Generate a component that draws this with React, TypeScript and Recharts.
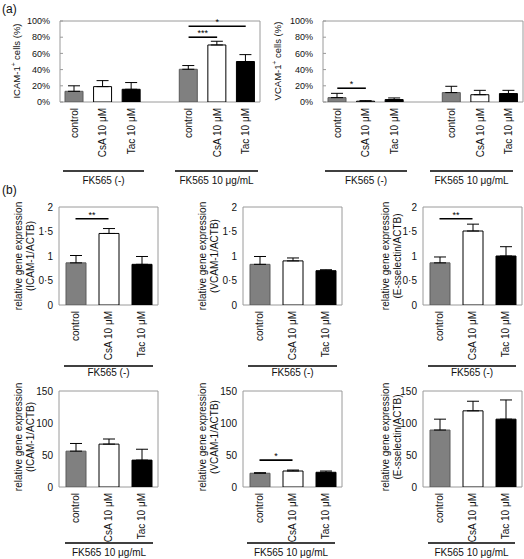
import React from "react";
import { BarChart, Bar, XAxis, YAxis, ErrorBar, Cell, ReferenceLine, ReferenceArea } from "recharts";

// ---------- data ----------
const aKeys = ["c1", "s1", "t1", "gap", "c2", "s2", "t2"];
const aLabels = ["control", "CsA 10 μM", "Tac 10 μM", "", "control", "CsA 10 μM", "Tac 10 μM"];
const aKinds = [0, 1, 2, -1, 0, 1, 2];
const icamCellsPct = [13.2, 19, 15.7, null, 40.4, 70.4, 50];
const icamCellsErr = [6.8, 7.4, 8.3, null, 4.6, 4.6, 8.5];
const vcamCellsPct = [5.4, 1, 3, null, 11.6, 9, 10.4];
const vcamCellsErr = [5.3, 0.6, 2, null, 7.8, 5.4, 4];
const aTicks = [0, 20, 40, 60, 80, 100];

const bKeys = ["control", "csa", "tac"];
const bLabels = ["control", "CsA 10 μM", "Tac 10 μM"];
const bKinds = [0, 1, 2];
const icamNeg = [0.86, 1.46, 0.83];
const icamNegErr = [0.15, 0.1, 0.16];
const vcamNeg = [0.83, 0.9, 0.7];
const vcamNegErr = [0.16, 0.06, 0.02];
const eselNeg = [0.86, 1.51, 1.0];
const eselNegErr = [0.12, 0.14, 0.19];
const icamFk = [56, 67, 42];
const icamFkErr = [12, 8, 17];
const vcamFk = [21.5, 25, 23];
const vcamFkErr = [0.8, 1.5, 2];
const eselFk = [89, 119, 106];
const eselFkErr = [17, 15, 30];
const bTicksLow = [0, 0.5, 1, 1.5, 2];
const bTicksHigh = [0, 50, 100, 150];

const icamCellsSig = [
  { from: "c2", to: "s2", y: 80, mark: "***" },
  { from: "c2", to: "t2", y: 93.5, mark: "*" },
];
const vcamCellsSig = [{ from: "c1", to: "s1", y: 17, mark: "*" }];
const icamNegSig = [{ from: "control", to: "csa", y: 1.76, mark: "**" }];
const eselNegSig = [{ from: "control", to: "csa", y: 1.76, mark: "**" }];
const vcamFkSig = [{ from: "control", to: "csa", y: 42, mark: "*" }];
const noSig: { from: string; to: string; y: number; mark: string }[] = [];

// ---------- styling ----------
const FILLS = ["#808080", "#ffffff", "#000000"];
const STROKES = ["#5a5a5a", "#000000", "#000000"];
const BOX = "#9a9a9a";
const YW = 50;
const MT = 14;
const MR = 1;
const XH = 62;

const pctFmt = (v: number) => `${v}%`;
const dotFmt = (v: number) => String(v).replace(".", "·");
const intFmt = (v: number) => String(v);

type Sig = { from: string; to: string; y: number; mark: string };
type PanelProps = {
  left: number;
  top: number;
  w: number;
  h: number;
  keys: string[];
  labels: string[];
  kinds: number[];
  values: (number | null)[];
  errors: (number | null)[];
  domain: [number, number];
  ticks: number[];
  fmt: (v: number) => string;
  barSize: number;
  sig: Sig[];
  tickFont: number;
  inner: boolean;
};

const RotTick = (props: any) => {
  const { x, y, payload, map } = props;
  const t = map[payload.value] ?? "";
  return (
    <text
      transform={`translate(${x},${y}) rotate(-90)`}
      textAnchor="end"
      dominantBaseline="central"
      fontSize={10}
      fill="#111"
    >
      {t}
    </text>
  );
};

function Panel(p: PanelProps) {
  const data = p.keys.map((k, i) => ({
    key: k,
    value: p.values[i],
    err: p.errors[i] == null ? null : [0, p.errors[i] as number],
  }));
  const map: Record<string, string> = {};
  p.keys.forEach((k, i) => (map[k] = p.labels[i]));
  return (
    <div style={{ position: "absolute", left: p.left - YW, top: p.top - MT }}>
      <BarChart
        width={YW + p.w + MR}
        height={MT + p.h + XH}
        data={data}
        margin={{ top: MT, right: MR, bottom: 0, left: 0 }}
        barSize={p.barSize}
      >
        <XAxis
          dataKey="key"
          type="category"
          interval={0}
          axisLine={false}
          tickLine={false}
          tickSize={0}
          tickMargin={6}
          height={XH}
          tick={(tp: any) => <RotTick {...tp} map={map} />}
        />
        <YAxis
          type="number"
          domain={p.domain}
          ticks={p.ticks}
          interval={0}
          width={YW}
          axisLine={false}
          tickLine={p.inner ? { stroke: BOX } : false}
          tickSize={p.inner ? -3 : 0}
          tickMargin={p.inner ? 13 : 6}
          tick={{ fontSize: p.tickFont, fill: "#111" }}
          tickFormatter={p.fmt}
          allowDataOverflow
        />
        <ReferenceArea
          y1={p.domain[0]}
          y2={p.domain[1]}
          fill="none"
          stroke={BOX}
          strokeWidth={1}
          ifOverflow="visible"
        />
        <Bar dataKey="value" isAnimationActive={false}>
          {data.map((d, i) => {
            const k = p.kinds[i];
            return (
              <Cell
                key={d.key}
                fill={k < 0 ? "none" : FILLS[k]}
                stroke={k < 0 ? "none" : STROKES[k]}
                strokeWidth={1}
              />
            );
          })}
          <ErrorBar dataKey="err" width={6} stroke="#000" strokeWidth={1} direction="y" />
        </Bar>
        {p.sig.map((s, i) => (
          <ReferenceLine
            key={i}
            segment={[
              { x: s.from, y: s.y },
              { x: s.to, y: s.y },
            ]}
            stroke="#000"
            strokeWidth={1.6}
            ifOverflow="visible"
            label={{ value: s.mark, position: "top", fontSize: 9, offset: 1, fill: "#000" }}
          />
        ))}
      </BarChart>
    </div>
  );
}

const RotTitle = ({ x, y, size = 9.5, children }: any) => (
  <text
    transform={`translate(${x},${y}) rotate(-90)`}
    textAnchor="middle"
    dominantBaseline="central"
    fontSize={size}
    fill="#111"
  >
    {children}
  </text>
);

const Group = ({ x1, x2, y, ty, label }: any) => (
  <g>
    <line x1={x1} x2={x2} y1={y} y2={y} stroke="#000" strokeWidth={1.6} />
    <text x={(x1 + x2) / 2} y={ty} textAnchor="middle" fontSize={10} fill="#111">
      {label}
    </text>
  </g>
);

export default function App() {
  const aCommon = {
    top: 21,
    w: 200,
    h: 81,
    keys: aKeys,
    labels: aLabels,
    kinds: aKinds,
    domain: [0, 100] as [number, number],
    ticks: aTicks,
    fmt: pctFmt,
    barSize: 18,
    tickFont: 9,
    inner: true,
  };
  const bCommon = {
    w: 99,
    keys: bKeys,
    labels: bLabels,
    kinds: bKinds,
    barSize: 20,
    tickFont: 10,
    inner: false,
  };
  const row1 = { top: 207, h: 98, domain: [0, 2] as [number, number], ticks: bTicksLow, fmt: dotFmt };
  const row2 = { top: 391, h: 96, domain: [0, 150] as [number, number], ticks: bTicksHigh, fmt: intFmt };
  const fkNeg = "FK565 (-)";
  const fkPos = "FK565 10 μg/mL";
  const sup = (name: string) => (
    <>
      {name}
      <tspan fontSize={6.5} dy={-3}>
        +
      </tspan>
      <tspan dy={3}> cells (%)</tspan>
    </>
  );
  return (
    <div
      style={{
        position: "absolute",
        left: 0,
        top: 0,
        width: 524,
        height: 559,
        overflow: "hidden",
        background: "#fff",
        fontFamily: '"Liberation Sans", Arial, sans-serif',
      }}
    >
      <Panel {...aCommon} left={60} values={icamCellsPct} errors={icamCellsErr} sig={icamCellsSig} />
      <Panel {...aCommon} left={323} values={vcamCellsPct} errors={vcamCellsErr} sig={vcamCellsSig} />

      <Panel {...bCommon} {...row1} left={59} values={icamNeg} errors={icamNegErr} sig={icamNegSig} />
      <Panel {...bCommon} {...row1} left={243} values={vcamNeg} errors={vcamNegErr} sig={noSig} />
      <Panel {...bCommon} {...row1} left={423} values={eselNeg} errors={eselNegErr} sig={eselNegSig} />

      <Panel {...bCommon} {...row2} left={59} values={icamFk} errors={icamFkErr} sig={noSig} />
      <Panel {...bCommon} {...row2} left={243} values={vcamFk} errors={vcamFkErr} sig={vcamFkSig} />
      <Panel {...bCommon} {...row2} left={423} values={eselFk} errors={eselFkErr} sig={noSig} />

      <svg
        width={524}
        height={559}
        style={{ position: "absolute", left: 0, top: 0, pointerEvents: "none" }}
      >
        <text x={2} y={13} fontSize={12} fill="#111">(a)</text>
        <text x={2} y={194} fontSize={12} fill="#111">(b)</text>

        <RotTitle x={16} y={61}>{sup("ICAM-1")}</RotTitle>
        <RotTitle x={277} y={61}>{sup("VCAM-1")}</RotTitle>

        <Group x1={63} x2={144} y={171} ty={184} label={fkNeg} />
        <Group x1={175} x2={258} y={171} ty={184} label={fkPos} />
        <Group x1={325} x2={407} y={171} ty={184} label={fkNeg} />
        <Group x1={430} x2={513} y={171} ty={184} label={fkPos} />

        <RotTitle x={18} y={256} size={10}>relative gene expression</RotTitle>
        <RotTitle x={30} y={256} size={10}>(ICAM-1/ACTB)</RotTitle>
        <RotTitle x={202} y={256} size={10}>relative gene expression</RotTitle>
        <RotTitle x={214} y={256} size={10}>(VCAM-1/ACTB)</RotTitle>
        <RotTitle x={385} y={256} size={10}>relative gene expression</RotTitle>
        <RotTitle x={397} y={256} size={10}>(E-sselectin/ACTB)</RotTitle>

        <RotTitle x={18} y={437} size={10}>relative gene expression</RotTitle>
        <RotTitle x={30} y={437} size={10}>(ICAM-1/ACTB)</RotTitle>
        <RotTitle x={202} y={437} size={10}>relative gene expression</RotTitle>
        <RotTitle x={214} y={437} size={10}>(VCAM-1/ACTB)</RotTitle>
        <RotTitle x={385} y={437} size={10}>relative gene expression</RotTitle>
        <RotTitle x={397} y={437} size={10}>(E-sselectin/ACTB)</RotTitle>

        <Group x1={64} x2={153} y={366} ty={376} label={fkNeg} />
        <Group x1={248} x2={337} y={366} ty={376} label={fkNeg} />
        <Group x1={428} x2={516} y={366} ty={376} label={fkNeg} />

        <Group x1={65} x2={153} y={543} ty={556} label={fkPos} />
        <Group x1={247} x2={335} y={543} ty={556} label={fkPos} />
        <Group x1={428} x2={515} y={543} ty={556} label={fkPos} />
      </svg>
    </div>
  );
}
